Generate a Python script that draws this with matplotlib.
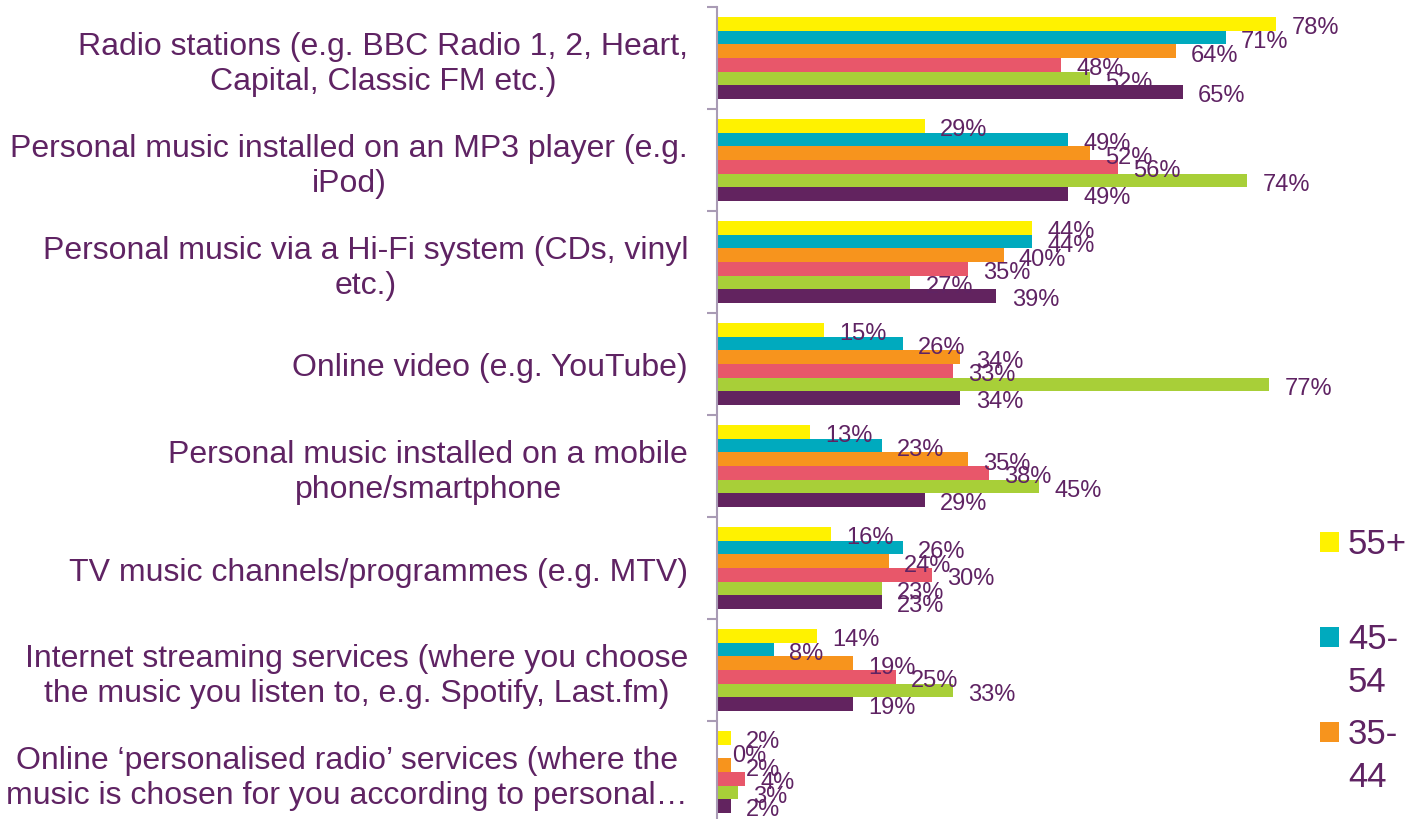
import matplotlib
matplotlib.use('Agg')
import matplotlib.pyplot as plt
from matplotlib.patches import Rectangle
import numpy as np

plt.rcParams['font.family'] = ['Liberation Sans', 'DejaVu Sans']

# 收听音乐的方式（各年龄段）
categories = [
    'Radio stations (e.g. BBC Radio 1, 2, Heart,\nCapital, Classic FM etc.)',
    'Personal music installed on an MP3 player (e.g.\niPod)',
    'Personal music via a Hi-Fi system (CDs, vinyl\netc.)',
    'Online video (e.g. YouTube)',
    'Personal music installed on a mobile\nphone/smartphone',
    'TV music channels/programmes (e.g. MTV)',
    'Internet streaming services (where you choose\nthe music you listen to, e.g. Spotify, Last.fm)',
    'Online \u2018personalised radio\u2019 services (where the\nmusic is chosen for you according to personal\u2026',
]

series_names = ['55+', '45-54', '35-44', '25-34', '16-24', 'Total']
legend_labels = ['55+', '45-\n54', '35-\n44']

age_55 = [78, 29, 44, 15, 13, 16, 14, 2]
age_45 = [71, 49, 44, 26, 23, 26, 8, 0]
age_35 = [64, 52, 40, 34, 35, 24, 19, 2]
age_25 = [48, 56, 35, 33, 38, 30, 25, 4]
age_16 = [52, 74, 27, 77, 45, 23, 33, 3]
total = [65, 49, 39, 34, 29, 23, 19, 2]

colors = ['#FFF200', '#00AABE', '#F7941D', '#E8576A', '#A8CF38', '#62235F']
text_color = '#5F2363'
axis_color = '#A99BB5'

W, H = 1413, 820
fig = plt.figure(figsize=(W / 100, H / 100), dpi=100)
# 坐标区：左边缘 716px，上 8px，下超出画布 4px
ax = fig.add_axes([716.5 / W, -4 / H, 574 / W, 816 / H])

values = [age_55, age_45, age_35, age_25, age_16, total]
n = len(values)
bar_h = 0.8 / n
y = np.arange(len(categories))

for j, (vals, c) in enumerate(zip(values, colors)):
    pos = y - 0.4 + (j + 0.5) * bar_h
    bars = ax.barh(pos, vals, height=bar_h, color=c, edgecolor='none',
                   label=series_names[j])
    for b, v in zip(bars, vals):
        ax.annotate(f'{v}%', (b.get_width(), b.get_y() + b.get_height() / 2),
                    xytext=(11, -2.5), textcoords='offset points',
                    ha='left', va='center', fontsize=17, color=text_color,
                    annotation_clip=False)

ax.set_xlim(0, 80)
ax.set_ylim(len(categories) - 0.5, -0.5)

for s in ['top', 'right', 'bottom']:
    ax.spines[s].set_visible(False)
ax.spines['left'].set_color(axis_color)
ax.spines['left'].set_linewidth(1.5)
ax.set_xticks([])

ax.set_yticks(y)
ax.set_yticklabels(categories, fontsize=23, color=text_color,
                   multialignment='center', linespacing=1.2)
ax.tick_params(axis='y', which='major', length=0, pad=20.5)
ax.set_yticks(np.arange(-0.5, len(categories)), minor=True)
ax.tick_params(axis='y', which='minor', length=7, width=1.5,
               color=axis_color, direction='out')

# 图例（只显示前三项）
baselines = [554, 649, 744]
for lab, c, base in zip(legend_labels, colors, baselines):
    fig.add_artist(Rectangle((1320 / W, 1 - (base - 1) / H), 19 / W, 20 / H,
                             transform=fig.transFigure, color=c, lw=0))
    for k, line in enumerate(lab.split('\n')):
        fig.text(1348 / W, 1 - (base + 43 * k) / H, line, fontsize=25,
                 color=text_color, ha='left', va='baseline')

fig.savefig('out.png', dpi=100)
